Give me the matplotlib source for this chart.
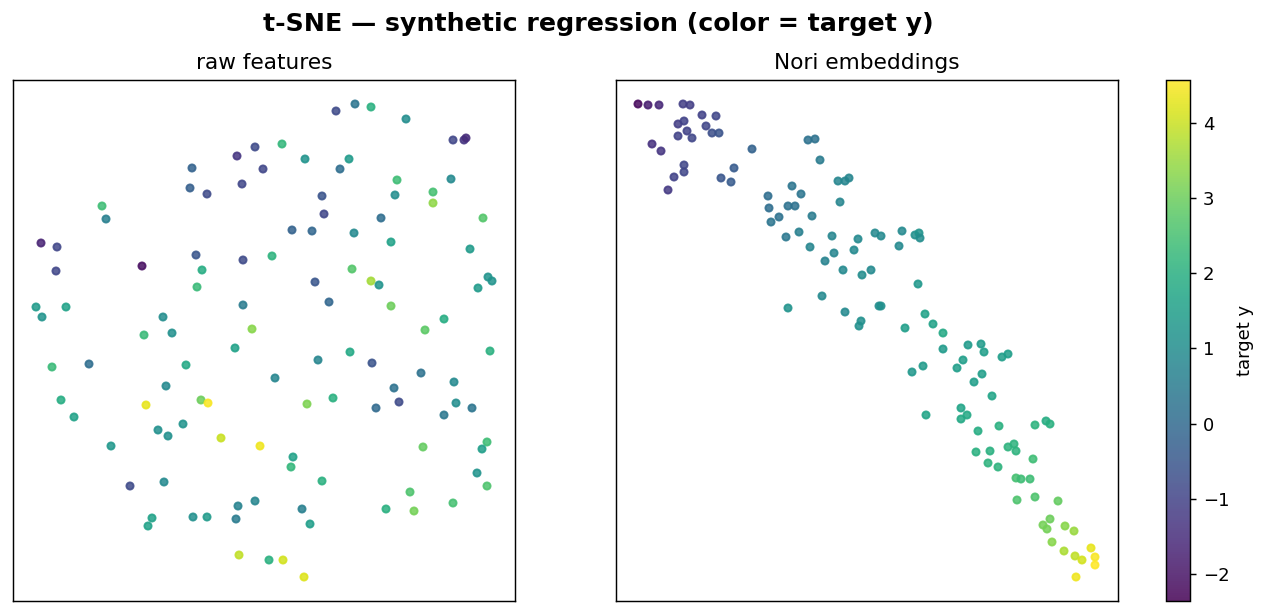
import numpy as np
import matplotlib
matplotlib.use("Agg")
import matplotlib.pyplot as plt

# t-SNE coordinates (arbitrary units) and target values, raw features
raw_x = [242, 224, 250, 179, 229, 177, 194, 89, 93, 28, 44, 43, 129, 183, 230, 189, 184, 230,
         23, 29, 53, 150, 159, 131, 239, 342, 323, 358, 393, 440, 451, 453, 269, 292, 336, 327,
         384, 438, 382, 420, 420, 309, 311, 368, 470, 279, 299, 341, 378, 457, 259, 339, 358,
         366, 302, 475, 479, 465, 316, 378, 431, 412, 222, 39, 76, 173, 153, 48, 133, 188, 195,
         61, 145, 155, 170, 208, 247, 98, 117, 151, 242, 225, 139, 135, 180, 194, 223, 226,
         337, 305, 359, 477, 262, 408, 441, 381, 294, 320, 386, 363, 443, 459, 431, 410, 474,
         469, 280, 278, 464, 474, 309, 397, 440, 373, 401, 289, 297, 256, 270, 291]
raw_y = [454, 445, 432, 433, 417, 413, 407, 395, 382, 358, 354, 330, 335, 346, 341, 331, 314, 296,
         294, 284, 294, 284, 268, 266, 272, 497, 490, 494, 482, 461, 461, 463, 457, 442, 442, 432,
         421, 422, 406, 409, 398, 405, 387, 383, 383, 371, 370, 368, 359, 352, 345, 332, 320,
         316, 319, 324, 320, 313, 299, 295, 282, 271, 253, 234, 237, 236, 215, 201, 196, 201, 198,
         184, 171, 165, 177, 163, 155, 155, 115, 119, 100, 95, 83, 75, 84, 84, 82, 46,
         249, 241, 238, 250, 223, 228, 219, 213, 197, 203, 199, 193, 198, 193, 186, 154, 159,
         152, 144, 134, 128, 115, 120, 109, 98, 92, 90, 92, 77, 41, 41, 24]
raw_c = [-0.8, -1.3, -0.9, -0.2, -0.9, -0.3, -0.8, 2.4, 0.6, -1.7, -0.9, -0.9, -2.1, -0.5, -0.8, 1.9,
         2.3, 0.5, 1.4, 1.2, 1.6, 1.0, 1.1, 2.3, 3.3, 0.3, -0.8, 2.0, 1.0, -0.9, -1.3, -1.5, 2.2, 1.2,
         1.4, 0.1, 2.4, 0.9, 1.0, 2.5, 3.4, -0.6, -0.9, 0.1, 2.7, -0.2, -0.1, 0.9, 1.6, 1.4, 2.1,
         2.7, 3.6, 1.2, -0.5, 1.2, 1.2, 1.4, -0.1, 3.0, 1.9, 2.8, 1.6, 2.3, 0.1, 1.8, 0.9, 1.9, 4.3,
         3.0, 4.5, 1.6, 1.1, 1.1, 1.2, 4.0, 4.4, 1.3, -0.8, 0.9, 0.8, 0.7, 1.6, 1.6, 1.1, 1.4, 0.5,
         3.9, 1.8, 0.8, -0.6, 2.0, 0.8, 0.2, 0.9, 0.2, 3.2, 2.0, -0.8, 0.0, 1.0, 0.3, 0.4, 2.9, 2.4,
         1.5, 1.6, 2.2, 1.2, 2.6, 2.0, 2.6, 2.5, 2.0, 3.1, 0.6, 1.5, 2.0, 4.1, 4.2]

# Nori embeddings
nori_x = [22, 32, 43, 67, 74, 86, 100, 62, 68, 90, 71, 96, 103, 62, 76, 36, 45, 136, 68, 68, 58,
          52, 118, 105, 115, 192, 199, 204, 222, 229, 233, 224, 176, 185, 152, 153, 172, 179, 163,
          155, 196, 170, 183, 216, 242, 194, 218, 238, 209, 227, 246, 206, 172, 229, 245, 243, 259,
          265, 286, 299, 303, 304, 283, 255, 302, 263, 265, 309, 317, 289, 327, 327, 352, 365, 368,
          386, 392, 307, 296, 347, 341, 366, 358, 376, 310, 345, 351, 345, 362, 383, 419, 430, 434,
          392, 398, 400, 360, 374, 417, 372, 382, 400, 405, 414, 401, 419, 442, 434, 427, 431, 449,
          458, 436, 448, 459, 466, 475, 479, 479, 460]
nori_y = [497, 496, 496, 497, 496, 486, 485, 477, 480, 475, 470, 468, 468, 465, 463, 457, 450, 452,
          436, 429, 424, 411, 433, 423, 419, 461, 462, 441, 420, 420, 423, 399, 415, 407, 405, 393,
          395, 395, 384, 379, 385, 364, 369, 365, 362, 354, 348, 351, 340, 331, 326, 305, 293, 289,
          280, 275, 368, 365, 370, 366, 368, 363, 355, 331, 317, 295, 295, 287, 277, 273, 268, 252,
          256, 257, 249, 244, 247, 235, 229, 241, 233, 227, 219, 205, 186, 193, 186, 182, 170, 175,
          176, 180, 177, 154, 157, 150, 149, 150, 142, 138, 134, 123, 122, 122, 101, 104, 100, 82,
          76, 72, 75, 70, 59, 50, 45, 41, 53, 44, 36, 24]
nori_c = [-2.2, -1.8, -1.6, -1.1, -1.1, -1.0, -0.9, -1.1, -1.0, -0.9, -1.0, -0.7, -0.6, -1.0, -0.9,
          -1.4, -1.3, -0.2, -0.9, -0.9, -1.0, -1.2, -0.4, -0.5, -0.4, 0.2, 0.2, 0.5, 0.8, 0.8, 0.8,
          0.8, 0.3, 0.3, 0.1, 0.1, 0.2, 0.2, 0.2, 0.3, 0.5, 0.4, 0.6, 0.8, 0.9, 0.8, 0.8, 0.9, 0.7,
          0.9, 1.0, 0.9, 1.2, 0.9, 1.1, 1.1, 0.9, 0.9, 0.9, 1.1, 1.2, 1.0, 0.9, 0.9, 1.3, 1.0, 1.1,
          1.6, 1.6, 1.5, 1.8, 1.4, 1.4, 1.4, 1.5, 1.5, 1.5, 1.4, 1.3, 1.5, 1.5, 1.5, 1.5, 1.7, 1.7,
          1.7, 1.8, 1.8, 1.9, 2.0, 2.1, 1.9, 2.0, 2.1, 2.1, 2.1, 2.0, 2.0, 2.4, 2.1, 2.1, 2.5, 2.4,
          2.4, 2.6, 2.6, 2.9, 3.0, 3.1, 3.1, 3.3, 3.5, 3.3, 3.7, 3.9, 4.1, 4.3, 4.5, 4.55, 4.4]

vmin, vmax = -2.36, 4.57

fig = plt.figure(figsize=(1269 / 130, 614 / 130), dpi=130)
ax1 = fig.add_axes([13 / 1269, 13 / 614, 502 / 1269, 521 / 614])
ax2 = fig.add_axes([616 / 1269, 13 / 614, 502 / 1269, 521 / 614])
cax = fig.add_axes([1166 / 1269, 13 / 614, 24 / 1269, 521 / 614])

for ax, xs, ys, cs, title in [(ax1, raw_x, raw_y, raw_c, "raw features"),
                              (ax2, nori_x, nori_y, nori_c, "Nori embeddings")]:
    sc = ax.scatter(xs, ys, c=cs, cmap="viridis", vmin=vmin, vmax=vmax, s=16, alpha=0.85)
    ax.set_xlim(0, 502)
    ax.set_ylim(0, 521)
    ax.set_xticks([])
    ax.set_yticks([])
    ax.set_title(title, fontsize=12)

cb = fig.colorbar(sc, cax=cax)
cb.set_label("target y", fontsize=10)
cb.ax.tick_params(labelsize=10)

fig.suptitle("t-SNE — synthetic regression (color = target y)", fontsize=14, fontweight="bold",
             x=598 / 1269, y=0.98)
fig.savefig("out.png", dpi=130)
